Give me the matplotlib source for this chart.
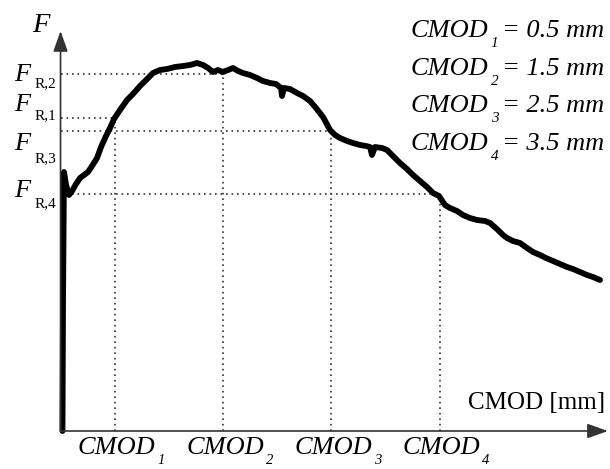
import matplotlib
matplotlib.use("Agg")
import matplotlib.pyplot as plt
import numpy as np

W, H, DPI = 610, 469, 100
SERIF = "Liberation Serif"

# Load - crack mouth opening record
cmod = [0.018, 0.023, 0.032, 0.051, 0.078, 0.106, 0.143, 0.180, 0.217, 0.254,
        0.291, 0.337, 0.374, 0.420, 0.457, 0.494, 0.549, 0.614, 0.669, 0.734,
        0.799, 0.854, 0.919, 0.983, 1.057, 1.131, 1.196, 1.260, 1.316, 1.362,
        1.408, 1.454, 1.500, 1.547, 1.593, 1.639, 1.685, 1.750, 1.814, 1.870,
        1.935, 1.990, 2.036, 2.045, 2.064, 2.119, 2.184, 2.239, 2.304, 2.359,
        2.424, 2.489, 2.535, 2.581, 2.646, 2.701, 2.766, 2.821, 2.858, 2.876,
        2.904, 2.969, 3.015, 3.070, 3.135, 3.199, 3.255, 3.320, 3.384, 3.440,
        3.495, 3.550, 3.596, 3.661, 3.716, 3.781, 3.846, 3.920, 3.966, 4.030,
        4.086, 4.123, 4.178, 4.243, 4.308, 4.363, 4.427, 4.483, 4.548, 4.612,
        4.677, 4.732, 4.797, 4.862, 4.917, 4.982]
load = [0.0, 13.1, 25.9, 24.6, 23.6, 24.0, 24.7, 25.3, 25.6, 25.9,
        26.5, 27.3, 28.4, 29.5, 30.3, 31.2, 32.1, 33.1, 33.7, 34.5,
        35.2, 35.8, 36.1, 36.2, 36.4, 36.5, 36.6, 36.8, 36.6, 36.3,
        35.9, 36.1, 35.9, 36.1, 36.3, 36.0, 35.8, 35.6, 35.3, 35.0,
        34.8, 34.7, 34.3, 33.5, 34.3, 34.2, 33.8, 33.5, 33.0, 32.3,
        31.4, 30.1, 29.6, 29.3, 29.0, 28.8, 28.6, 28.5, 28.4, 27.6,
        28.4, 28.3, 28.1, 27.5, 26.8, 26.2, 25.6, 25.0, 24.4, 23.8,
        23.5, 22.6, 22.3, 22.0, 21.6, 21.3, 21.1, 21.0, 20.8, 20.2,
        19.6, 19.3, 19.0, 18.8, 18.3, 17.9, 17.6, 17.3, 17.0, 16.7,
        16.4, 16.2, 15.9, 15.6, 15.4, 15.1]

# Residual strengths at the four reference openings
ref_idx = ["1", "2", "3", "4"]
ref_cmod = [0.5, 1.5, 2.5, 3.5]
ref_load = [31.3, 35.7, 30.0, 23.7]

fig = plt.figure(figsize=(W / DPI, H / DPI), dpi=DPI)
ax = fig.add_axes([0, 0, 1, 1])
ax.set_xlim(-0.559, 5.074)
ax.set_ylim(-3.8, 43.1)
ax.axis("off")

dot = dict(color="#333333", lw=1.2, linestyle=(0, (1, 2.3)), zorder=1)
for c, f in zip(ref_cmod, ref_load):
    ax.plot([0, c], [f, f], **dot)
    ax.plot([c, c], [0, f], **dot)

ax.plot(cmod, load, color="black", lw=4.2, solid_joinstyle="round",
        solid_capstyle="round", zorder=3)

# Axes with arrow heads
arrow = dict(arrowstyle="-|>,head_length=0.9,head_width=0.32", color="#333333",
             lw=1.2, shrinkA=0, shrinkB=0, mutation_scale=14)
ax.annotate("", xy=(5.055, 0), xytext=(0, 0), arrowprops=arrow, zorder=4)
ax.annotate("", xy=(0, 40.0), xytext=(0, 0), arrowprops=arrow, zorder=4)

renderer = fig.canvas.get_renderer()


def put(x, y, s, **kw):
    """Place text at pixel position (x, y) measured from the top-left corner."""
    kw.setdefault("family", SERIF)
    kw.setdefault("va", "baseline")
    return fig.text(x / W, 1 - y / H, s, **kw)


def right_edge(t):
    return t.get_window_extent(renderer).x1


# Axis titles
put(32, 32, "F", fontsize=20.5, fontstyle="italic")
put(605, 409, "CMOD [mm]", fontsize=18, ha="right")

# Load level labels on the vertical axis
load_label_pos = {"2": (81, 87), "1": (111, 119), "3": (150, 162), "4": (197, 207)}
for k in ref_idx:
    yb, ys = load_label_pos[k]
    put(14, yb, "F", fontsize=19, fontstyle="italic")
    put(35, ys, "R," + k, fontsize=11)

# Opening labels under the horizontal axis
for k, c in zip(ref_idx, ref_cmod):
    xp = 60.5 + c * 108.3
    t = put(xp + 2, 454, "CMOD", fontsize=19, fontstyle="italic", ha="center")
    put(right_edge(t) + 2, 464, k, fontsize=10.5, fontstyle="italic")

# Reference opening values
for i, (k, c) in enumerate(zip(ref_idx, ref_cmod)):
    yb = 37 + i * 37.7
    t = put(411, yb, "CMOD", fontsize=19, fontstyle="italic")
    s = put(right_edge(t) + 2, yb + 10, k, fontsize=11, fontstyle="italic")
    put(right_edge(s) + 4, yb, f"= {c} mm", fontsize=19, fontstyle="italic")

fig.savefig("out.png", dpi=DPI)
